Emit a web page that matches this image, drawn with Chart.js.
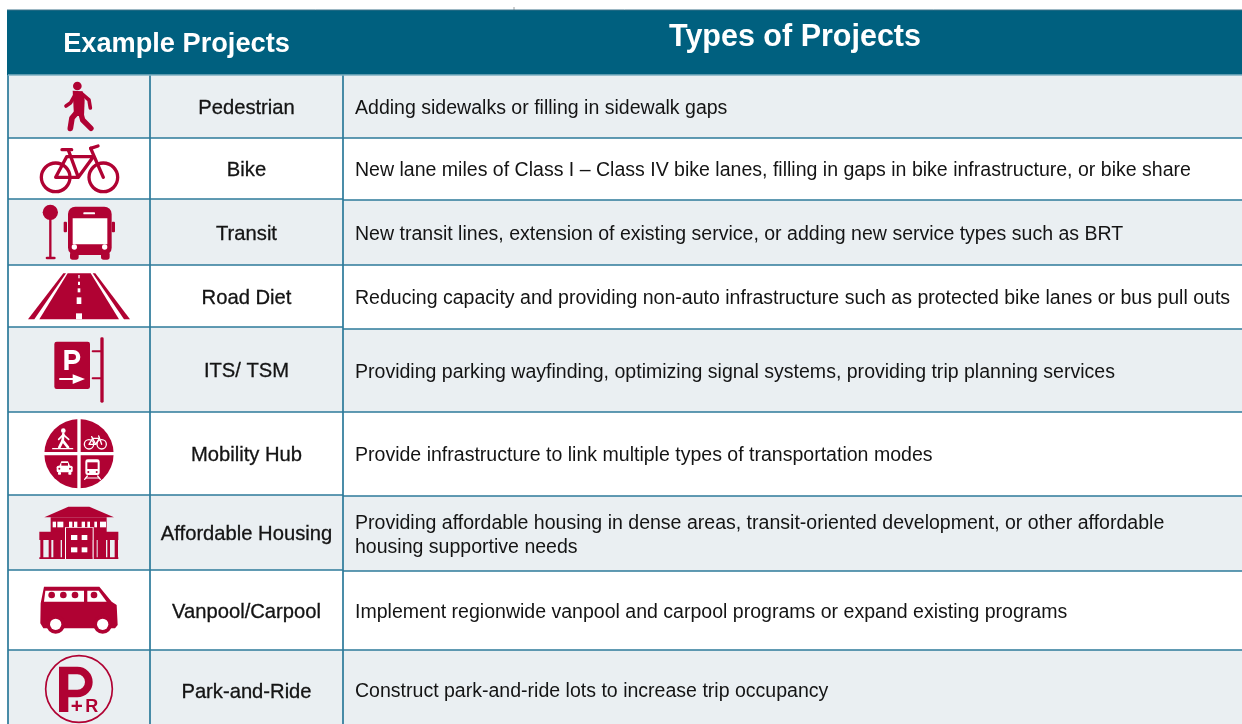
<!DOCTYPE html>
<html>
<head>
<meta charset="utf-8">
<title>Example Projects</title>
<script src="https://cdn.jsdelivr.net/npm/chart.js@4"></script>
<style>
  html, body { margin: 0; padding: 0; background: #fff; overflow: hidden; }
  canvas { display: block; }
</style>
</head>
<body>
<canvas id="projectsTable" width="1242" height="724"></canvas>
<script>
// Project types table: bands and rules are scatter datasets, text and icons a small plugin
const categories = ['Pedestrian', 'Bike', 'Transit', 'Road Diet', 'ITS/ TSM', 'Mobility Hub', 'Affordable Housing', 'Vanpool/Carpool', 'Park-and-Ride'];
const descriptions = [
    'Adding sidewalks or filling in sidewalk gaps',
    'New lane miles of Class I – Class IV bike lanes, filling in gaps in bike infrastructure, or bike share',
    'New transit lines, extension of existing service, or adding new service types such as BRT',
    'Reducing capacity and providing non-auto infrastructure such as protected bike lanes or bus pull outs',
    'Providing parking wayfinding, optimizing signal systems, providing trip planning services',
    'Provide infrastructure to link multiple types of transportation modes',
    'Providing affordable housing in dense areas, transit-oriented development, or other affordable\nhousing supportive needs',
    'Implement regionwide vanpool and carpool programs or expand existing programs',
    'Construct park-and-ride lots to increase trip occupancy'
];
const headers = ['Example Projects', 'Types of Projects'];
const leftRowEdges = [75, 138, 199, 265, 327, 412, 495, 570, 650, 730];
const rightRowEdges = [75, 138, 200, 265, 329, 412, 496, 571, 650, 730];
const columnEdges = [8, 150, 343, 1242];

const HEADER_COLOR = '#00607f';
const BAND_COLOR = '#eaeff2';
const RULE_COLOR = '#2c7a9a';
const ICON_COLOR = '#b00233';
const TEXT_COLOR = '#141414';

function hSegment(x0, x1, y, color, width) {
    return {
        data: [{ x: x0, y: y }, { x: x1, y: y }],
        showLine: true, pointRadius: 0, borderColor: color, borderWidth: width, fill: false
    };
}

function vSegment(x, y0, y1, color, width) {
    return {
        data: [{ x: x, y: y0 }, { x: x, y: y1 }],
        showLine: true, pointRadius: 0, borderColor: color, borderWidth: width, fill: false
    };
}

function band(x0, x1, y0, y1, color) {
    return {
        data: [{ x: x0, y: y0 }, { x: x1, y: y0 }],
        showLine: true, pointRadius: 0, borderWidth: 0, borderColor: color,
        backgroundColor: color, fill: { value: y1 }
    };
}

function buildDatasets() {
    const rules = [];
    const bands = [];
    const [colA, colB, colC, colEnd] = columnEdges;

    leftRowEdges.slice(1, -1).forEach(y => rules.push(hSegment(colA, colC, y, RULE_COLOR, 1.7)));
    rightRowEdges.slice(1, -1).forEach(y => rules.push(hSegment(colC, colEnd, y, RULE_COLOR, 1.7)));
    rules.push(hSegment(colA, colEnd, leftRowEdges[0], '#7fb0c2', 1.5));
    rules.push(hSegment(colA - 1, colEnd, 10, '#3b7088', 1));
    rules.push(vSegment(514, 7, 10, '#c8c8c8', 1));
    [colA, colB, colC].forEach(x => rules.push(vSegment(x, leftRowEdges[0], 730, RULE_COLOR, 1.7)));

    categories.forEach((c, i) => {
        if (i % 2 === 0) {
            bands.push(band(colA, colC, leftRowEdges[i], leftRowEdges[i + 1], BAND_COLOR));
            bands.push(band(colC, colEnd, rightRowEdges[i], rightRowEdges[i + 1], BAND_COLOR));
        }
    });
    bands.push(band(colA - 1, colEnd, 10, leftRowEdges[0], HEADER_COLOR));
    return rules.concat(bands);
}

// icons are sketched in 3x units, relative to the page
function drawIcon(ctx, yOffset, fn) {
    ctx.save();
    ctx.translate(0, yOffset);
    ctx.scale(1 / 3, 1 / 3);
    ctx.fillStyle = ICON_COLOR;
    ctx.strokeStyle = ICON_COLOR;
    ctx.lineCap = 'round';
    ctx.lineJoin = 'round';
    fn(ctx);
    ctx.restore();
}

function poly(ctx, pts, close) {
    ctx.beginPath();
    pts.forEach((p, i) => (i ? ctx.lineTo(p[0], p[1]) : ctx.moveTo(p[0], p[1])));
    if (close) ctx.closePath();
}

function strokeLine(ctx, pts, w) {
    ctx.lineWidth = w;
    poly(ctx, pts, false);
    ctx.stroke();
}

function disc(ctx, x, y, r) {
    ctx.beginPath();
    ctx.arc(x, y, r, 0, Math.PI * 2);
    ctx.fill();
}

function ring(ctx, x, y, r, w) {
    ctx.lineWidth = w;
    ctx.beginPath();
    ctx.arc(x, y, r, 0, Math.PI * 2);
    ctx.stroke();
}

function box(ctx, x0, y0, x1, y1, r) {
    ctx.beginPath();
    ctx.roundRect(x0, y0, x1 - x0, y1 - y0, r || 0);
    ctx.fill();
}

const iconPainters = [
    function pedestrian(ctx) {
        disc(ctx, 232, 258, 13);
        poly(ctx, [[218, 272], [248, 274], [254, 300], [252, 348], [222, 348]], true);
        ctx.fill();
        strokeLine(ctx, [[230, 338], [216, 354], [211, 385]], 17);
        strokeLine(ctx, [[242, 338], [248, 360], [273, 385]], 16);
        strokeLine(ctx, [[226, 283], [212, 308], [198, 318]], 11);
        strokeLine(ctx, [[245, 281], [267, 300], [271, 324]], 11);
    },
    function bike(ctx) {
        ring(ctx, 167, 532, 43, 10);
        ring(ctx, 310, 532, 43, 10);
        strokeLine(ctx, [[205, 450], [235, 532], [167, 532], [200, 470], [280, 470], [235, 532]], 10);
        strokeLine(ctx, [[186, 449], [215, 449]], 10);
        strokeLine(ctx, [[272, 445], [310, 532]], 10);
        strokeLine(ctx, [[272, 445], [294, 438]], 10);
    },
    function transit(ctx) {
        disc(ctx, 151, 637, 23);
        strokeLine(ctx, [[151, 650], [151, 772]], 7);
        box(ctx, 137, 770, 167, 778, 4);
        box(ctx, 204, 620, 335, 765, 22);
        box(ctx, 191, 665, 201, 697, 3);
        box(ctx, 335, 665, 345, 697, 3);
        box(ctx, 210, 755, 236, 779, 8);
        box(ctx, 303, 755, 329, 779, 8);
        ctx.fillStyle = '#fff';
        box(ctx, 218, 655, 322, 733);
        box(ctx, 250, 637, 285, 643, 2);
        disc(ctx, 223, 741, 8);
        disc(ctx, 314, 741, 8);
    },
    function roadDiet(ctx) {
        poly(ctx, [[203, 40], [272, 40], [357, 178], [118, 178]], true);
        ctx.fill();
        poly(ctx, [[190, 40], [198, 40], [103, 178], [84, 178]], true);
        ctx.fill();
        poly(ctx, [[278, 40], [286, 40], [390, 178], [372, 178]], true);
        ctx.fill();
        ctx.fillStyle = '#fff';
        box(ctx, 228, 160, 246, 178);
        box(ctx, 230, 112, 244, 132);
        box(ctx, 233, 85, 241, 97);
        box(ctx, 234, 65, 240, 75);
        box(ctx, 235, 45, 239, 55);
    },
    function its(ctx) {
        box(ctx, 163, 245, 270, 387, 7);
        box(ctx, 301, 232, 311, 428, 4);
        strokeLine(ctx, [[278, 274], [303, 274]], 6);
        strokeLine(ctx, [[278, 355], [303, 355]], 6);
        ctx.fillStyle = '#fff';
        ctx.strokeStyle = '#fff';
        ctx.fill(new Path2D('M193 270H220a21 21 0 0 1 0 42H206V330H193ZM206 282V300H219a9 9 0 0 0 0-18Z'), 'evenodd');
        strokeLine(ctx, [[180, 357], [225, 357]], 6);
        poly(ctx, [[218, 343], [255, 357], [218, 372]], true);
        ctx.fill();
    },
    function mobilityHub(ctx) {
        disc(ctx, 237, 581, 104);
        ctx.fillStyle = '#fff';
        ctx.strokeStyle = '#fff';
        box(ctx, 232, 470, 242, 692);
        box(ctx, 126, 576, 348, 586);
        // little pedestrian
        disc(ctx, 190, 512, 7);
        strokeLine(ctx, [[190, 522], [188, 542], [178, 562]], 8);
        strokeLine(ctx, [[188, 542], [204, 562]], 8);
        strokeLine(ctx, [[190, 524], [176, 538]], 5);
        strokeLine(ctx, [[190, 524], [206, 538]], 5);
        strokeLine(ctx, [[158, 566], [218, 566]], 4);
        // little bike
        ring(ctx, 267, 553, 14, 4);
        ring(ctx, 305, 553, 14, 4);
        strokeLine(ctx, [[267, 553], [278, 535], [298, 535], [287, 553], [267, 553]], 4);
        strokeLine(ctx, [[275, 530], [287, 553]], 4);
        strokeLine(ctx, [[296, 528], [305, 553]], 4);
        // little car
        ctx.beginPath();
        ctx.roundRect(170, 617, 48, 20, 5);
        ctx.fill();
        poly(ctx, [[178, 618], [184, 604], [204, 604], [210, 618]], true);
        ctx.fill();
        box(ctx, 174, 636, 183, 644, 2);
        box(ctx, 205, 636, 214, 644, 2);
        ctx.fillStyle = ICON_COLOR;
        box(ctx, 184, 609, 204, 617);
        disc(ctx, 178, 626, 3);
        disc(ctx, 210, 626, 3);
        // little train
        ctx.fillStyle = '#fff';
        box(ctx, 256, 598, 299, 645, 7);
        strokeLine(ctx, [[262, 648], [254, 658]], 4);
        strokeLine(ctx, [[293, 648], [301, 658]], 4);
        strokeLine(ctx, [[258, 654], [297, 654]], 3);
        ctx.fillStyle = ICON_COLOR;
        box(ctx, 262, 607, 293, 627);
        disc(ctx, 265, 636, 3);
        disc(ctx, 290, 636, 3);
    },
    function housing(ctx) {
        poly(ctx, [[205, 50], [268, 50], [342, 82], [133, 82]], true);
        ctx.fill();
        box(ctx, 152, 82, 320, 128);
        box(ctx, 118, 125, 355, 150);
        box(ctx, 197, 112, 278, 207);
        box(ctx, 118, 202, 355, 207);
        [[121, 130], [146, 154], [160, 182], [186, 198], [278, 290], [293, 318], [322, 330], [344, 354]].forEach(c => box(ctx, c[0], 150, c[1], 204));
        ctx.fillStyle = '#fff';
        [[158, 168], [172, 190], [207, 217], [222, 232], [245, 255], [262, 270], [283, 291], [300, 318]].forEach(c => box(ctx, c[0], 95, c[1], 112));
        box(ctx, 213, 135, 232, 150);
        box(ctx, 245, 135, 262, 150);
        box(ctx, 213, 172, 232, 187);
        box(ctx, 245, 172, 262, 187);
        box(ctx, 195, 112, 198, 207);
        box(ctx, 278, 112, 281, 207);
        box(ctx, 197, 111, 280, 113);
    },
    function van(ctx) {
        poly(ctx, [[132, 290], [298, 290], [335, 335], [350, 345], [353, 405], [345, 415], [130, 415], [121, 400], [122, 340]], true);
        ctx.fill();
        ctx.fillStyle = '#fff';
        poly(ctx, [[136, 302], [252, 302], [252, 335], [132, 335]], true);
        ctx.fill();
        poly(ctx, [[262, 302], [296, 302], [320, 335], [262, 335]], true);
        ctx.fill();
        ctx.fillStyle = ICON_COLOR;
        [155, 190, 225, 282].forEach(x => disc(ctx, x, 315, 10));
        disc(ctx, 167, 403, 28);
        disc(ctx, 308, 403, 28);
        ctx.fillStyle = '#fff';
        disc(ctx, 167, 403, 17);
        disc(ctx, 308, 403, 17);
    },
    function parkAndRide(ctx) {
        ring(ctx, 237, 597, 100, 5);
        ctx.fill(new Path2D('M177 530H232a46 46 0 0 1 0 92H205V666H177ZM205 553V599H232a23 23 0 0 0 0-46Z'), 'evenodd');
        ctx.font = 'bold 62px "Liberation Sans"';
        ctx.textAlign = 'left';
        ctx.textBaseline = 'alphabetic';
        ctx.fillText('+', 212, 668);
        ctx.font = 'bold 54px "Liberation Sans"';
        ctx.fillText('R', 256, 666);
    }
];

const tableText = {
    id: 'tableText',
    afterDatasetsDraw(chart) {
        const { ctx, scales } = chart;
        const px = v => scales.x.getPixelForValue(v);
        const py = v => scales.y.getPixelForValue(v);
        const [colA, colB, colC] = columnEdges;

        ctx.save();
        ctx.textBaseline = 'middle';

        ctx.fillStyle = '#ffffff';
        ctx.textAlign = 'center';
        ctx.font = 'bold 27.2px "Liberation Sans"';
        ctx.fillText(headers[0], px(176.500), py(45));
        ctx.font = 'bold 30.5px "Liberation Sans"';
        ctx.fillText(headers[1], px(795), py(38));

        categories.forEach((name, i) => {
            const yMid = (leftRowEdges[i] + leftRowEdges[i + 1]) / 2 + 2;
            ctx.fillStyle = TEXT_COLOR;
            ctx.strokeStyle = TEXT_COLOR;
            ctx.lineWidth = 0.3;
            ctx.textAlign = 'center';
            ctx.font = '20.2px "Liberation Sans"';
            ctx.fillText(name, px((colB + colC) / 2), py(yMid));
            ctx.strokeText(name, px((colB + colC) / 2), py(yMid));

            const lines = descriptions[i].split('\n');
            const yRight = (rightRowEdges[i] + rightRowEdges[i + 1]) / 2 + 2;
            ctx.textAlign = 'left';
            ctx.font = '19.55px "Liberation Sans"';
            lines.forEach((line, k) => {
                ctx.fillText(line, px(colC + 12), py(yRight + (k - (lines.length - 1) / 2) * 24));
            });
        });
        ctx.restore();

        iconPainters.forEach((paint, i) => {
            const yOffset = [0, 0, 0, 260, 260, 260, 490, 490, 490][i];
            drawIcon(ctx, yOffset, paint);
        });
    }
};

new Chart(document.getElementById('projectsTable').getContext('2d'), {
    type: 'scatter',
    data: { datasets: buildDatasets() },
    plugins: [tableText],
    options: {
        responsive: false,
        animation: false,
        layout: { padding: 0 },
        plugins: { legend: { display: false }, tooltip: { enabled: false } },
        scales: {
            x: { type: 'linear', display: false, min: 0, max: 1242 },
            y: { type: 'linear', display: false, min: 0, max: 724, reverse: true }
        }
    }
});
</script>
</body>
</html>
